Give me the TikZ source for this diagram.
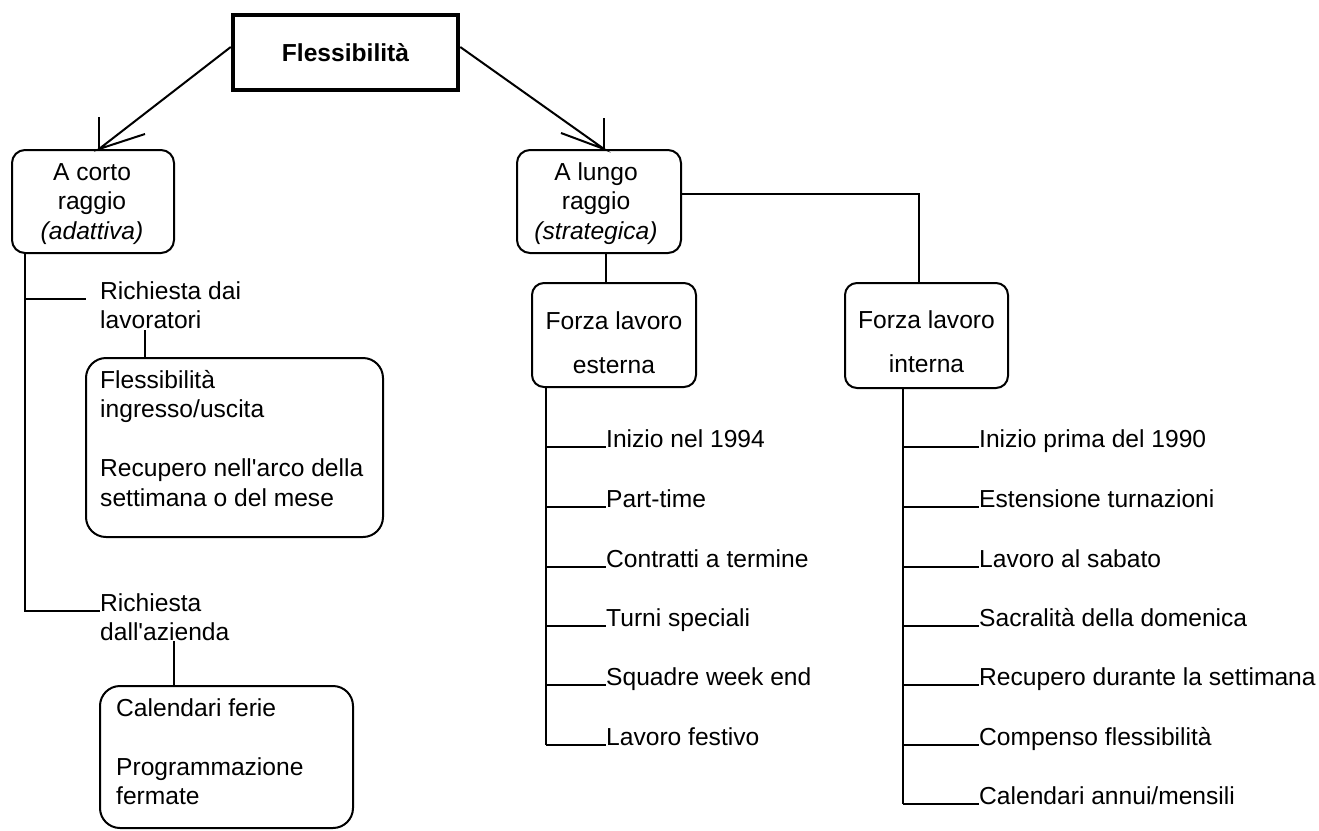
\documentclass[tikz,border=0pt]{standalone}
\usepackage{fontspec}
\newfontfamily\lib{Liberation Sans}
\usetikzlibrary{calc}
\begin{document}
\begin{tikzpicture}[x=1pt,y=-1pt,
  every node/.style={font=\lib\fontsize{24.6}{29.5}\selectfont, inner sep=0pt},
  ln/.style={line width=2pt},
  rbox/.style={draw, line width=2pt, rounded corners=#1},
  rbox/.default=13pt,
  txt/.style={anchor=base},
  txtl/.style={anchor=base west},
]
\fill[white] (0,0) rectangle (1319,830);
\useasboundingbox (0,0) rectangle (1319,830);

% root
\node[draw, line width=4.5pt, minimum width=225pt, minimum height=75pt,
      font=\lib\fontsize{24.6}{29.5}\selectfont\bfseries] (fles) at (345.5,52.5) {Flessibilità};

% second level
\node[rbox, minimum width=162pt, minimum height=103pt] (corto) at (93,201.5) {};
\node[txt] (cortoT) at (92,180) {\begin{tabular}[t]{@{}c@{}}A corto\\raggio\\\textit{(adattiva)}\end{tabular}};
\node[rbox, minimum width=164pt, minimum height=103pt] (lungo) at (599,201.5) {};
\node[txt] (lungoT) at (596,180) {\begin{tabular}[t]{@{}c@{}}A lungo\\raggio\\\textit{(strategica)}\end{tabular}};

% long-range children
\node[rbox=12pt, minimum width=164pt, minimum height=104pt] (esterna) at (614,335) {};
\node[txt] (esternaT) at (614,329) {\begin{tabular}[t]{@{}c@{}}Forza lavoro\\[14.5pt]esterna\end{tabular}};
\node[rbox=12pt, minimum width=163pt, minimum height=105pt] (interna) at (926.5,335.5) {};
\node[txt] (internaT) at (926.5,328) {\begin{tabular}[t]{@{}c@{}}Forza lavoro\\[15pt]interna\end{tabular}};

% short-range children
\node[txtl] (req1) at (100,299) {\begin{tabular}[t]{@{}l@{}}Richiesta dai\\lavoratori\end{tabular}};
\node[rbox=20pt, minimum width=297pt, minimum height=179pt] (lavbox) at (234.5,447.5) {};
\node[txtl] (lavT) at (100,388) {\begin{tabular}[t]{@{}l@{}}Flessibilità\\ingresso/uscita\\ \\Recupero nell'arco della\\settimana o del mese\end{tabular}};
\node[txtl] (req2) at (100,611) {\begin{tabular}[t]{@{}l@{}}Richiesta\\dall'azienda\end{tabular}};
\node[rbox=20pt, minimum width=253pt, minimum height=142pt] (azbox) at (226.5,757) {};
\node[txtl] (azT) at (116,716) {\begin{tabular}[t]{@{}l@{}}Calendari ferie\\ \\Programmazione\\fermate\end{tabular}};

% lists
\foreach \t/\y [count=\i] in {{Inizio nel 1994}/447, {Part-time}/507, {Contratti a termine}/567,
    {Turni speciali}/626, {Squadre week end}/685, {Lavoro festivo}/745}
  \node[txtl] (e\i) at (606,\y) {\t};
\foreach \t/\y [count=\i] in {{Inizio prima del 1990}/447, {Estensione turnazioni}/507, {Lavoro al sabato}/567,
    {Sacralità della domenica}/626, {Recupero durante la settimana}/685, {Compenso flessibilità}/745,
    {Calendari annui/mensili}/804}
  \node[txtl] (n\i) at (979,\y) {\t};

% arrows from root
\coordinate (tipL) at ($(corto.north west)+(88,0)$);
\draw[ln] ($(fles.west)+(0,-5.5)$) -- (tipL) -- +(46,-15);
\draw[ln] (tipL) -- +(0,-32);
\coordinate (tipR) at ($(lungo.north west)+(88,0)$);
\draw[ln] ($(fles.east)+(0,-5.5)$) -- (tipR) -- +(-43,-16);
\draw[ln] (tipR) -- +(0,-31);

% short-range tree
\coordinate (tl) at ($(corto.south west)+(14,0)$);
\draw[ln] (tl) |- (req2.base west);
\draw[ln] (tl |- req1.base west) -- ($(req1.base west)+(-14,0)$);
\coordinate (c1) at ($(req1.base west)+(45,31)$);
\draw[ln] (c1) -- (c1 |- lavbox.north);
\coordinate (c2) at ($(req2.base west)+(74,30)$);
\draw[ln] (c2) -- (c2 |- azbox.north);

% long-range tree
\draw[ln] ($(lungo.south)+(7,0)$) -- ($(esterna.north)+(-8,0)$);
\draw[ln] ($(lungo.east)+(0,-7.5)$) -| ($(interna.north)+(-7.5,0)$);

\coordinate (et) at ($(esterna.south west)+(15,0)$);
\draw[ln] (et) -- (et |- e6.base west);
\foreach \i in {1,...,6} \draw[ln] (et |- e\i.base west) -- (e\i.base west);

\coordinate (it) at ($(interna.south west)+(59,0)$);
\draw[ln] (it) -- (it |- n7.base west);
\foreach \i in {1,...,7} \draw[ln] (it |- n\i.base west) -- (n\i.base west);
\end{tikzpicture}
\end{document}
